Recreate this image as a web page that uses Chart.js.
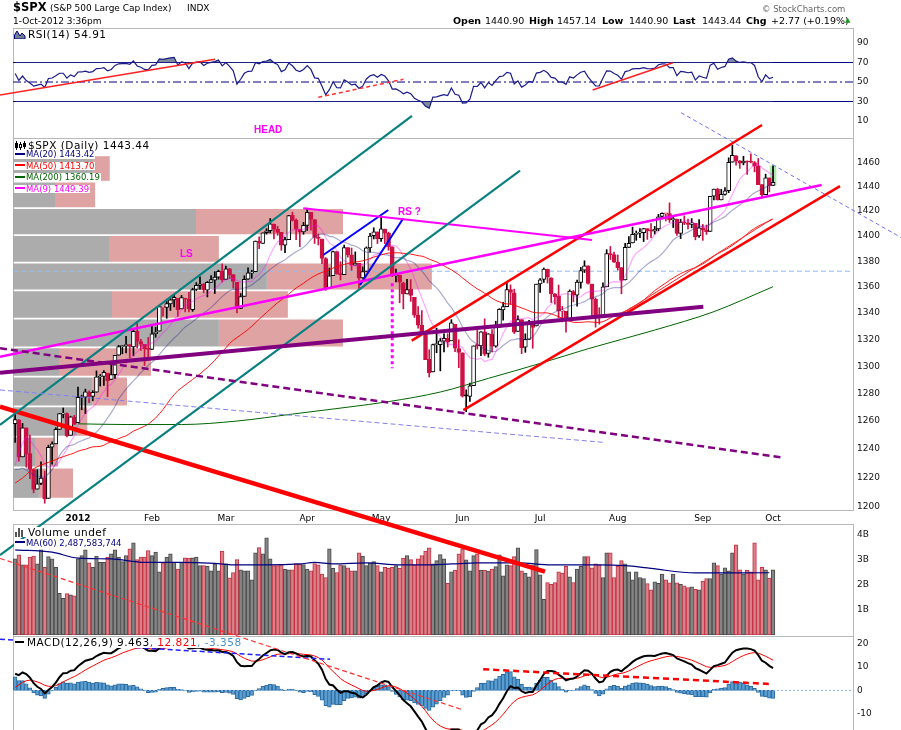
<!DOCTYPE html>
<html><head><meta charset="utf-8">
<script src="https://cdn.jsdelivr.net/npm/chart.js@4.4.0/dist/chart.umd.min.js"></script>
<style>
html,body{margin:0;padding:0;width:901px;height:730px;overflow:hidden;background:#fff;font-family:'DejaVu Sans',sans-serif;color:#000}
canvas{position:absolute;left:0}
.t{position:absolute;white-space:nowrap;line-height:1;font-size:9px;z-index:10}
.box{position:absolute;left:13px;width:841px;border:1px solid #b8b8b8;box-sizing:border-box;z-index:0}
.lg{position:absolute;white-space:nowrap;line-height:1;background:#fff;z-index:10;padding-right:1px}
.big{font-size:10.5px;letter-spacing:0.5px}
.sm{font-size:8.5px}
.dash{display:inline-block;width:10px;height:2px;vertical-align:middle;margin:0 1px 0 1px;position:relative;top:-1px}
.ann{position:absolute;white-space:nowrap;line-height:1;font:bold 10px 'Liberation Sans',Arial,sans-serif;color:#ff00ff;z-index:10}
</style></head><body>

<div class="box" style="top:28px;height:111px"></div>
<div class="box" style="top:138px;height:373px"></div>
<div class="box" style="top:524px;height:113px"></div>
<div class="box" style="top:636px;height:110px"></div>

<canvas id="cMacd" width="901" height="124" style="top:626px;z-index:1"></canvas>
<canvas id="cVol" width="901" height="225" style="top:505px;z-index:2"></canvas>
<canvas id="cRsi" width="901" height="130" style="top:18px;z-index:3"></canvas>
<canvas id="cMain" width="901" height="730" style="top:0px;z-index:4"></canvas>

<div class="t" style="left:13px;top:2px;font-size:11.5px;font-weight:bold">$SPX</div>
<div class="t" style="left:50px;top:4px">(S&amp;P 500 Large Cap Index)</div>
<div class="t" style="left:187px;top:4px">INDX</div>
<div class="t" style="left:13px;top:17px">1-Oct-2012 3:36pm</div>
<div class="t" style="left:762px;top:5px;font-size:8.5px;color:#666">&copy; StockCharts.com</div>
<div class="t" style="left:453px;top:15.6px;font-size:9.5px;font-weight:bold">Open</div>
<div class="t" style="left:485px;top:15.6px;font-size:9.5px">1440.90</div>
<div class="t" style="left:529px;top:15.6px;font-size:9.5px;font-weight:bold">High</div>
<div class="t" style="left:557px;top:15.6px;font-size:9.5px">1457.14</div>
<div class="t" style="left:602px;top:15.6px;font-size:9.5px;font-weight:bold">Low</div>
<div class="t" style="left:629px;top:15.6px;font-size:9.5px">1440.90</div>
<div class="t" style="left:673px;top:15.6px;font-size:9.5px;font-weight:bold">Last</div>
<div class="t" style="left:702px;top:15.6px;font-size:9.5px">1443.44</div>
<div class="t" style="left:746px;top:15.6px;font-size:9.5px;font-weight:bold">Chg</div>
<div class="t" style="left:771px;top:15.6px;font-size:9.5px">+2.77 (+0.19%)</div>
<div class="t" style="left:845px;top:17px;font-size:7px;color:#1a9a1a">&#9650;</div>

<div class="lg big" style="left:14px;top:28.5px"><svg width="12" height="9" style="vertical-align:-1px;margin-right:2px"><polygon points="0.5,9 0.5,5 3,1 6,6 8,3 11,6 11,9" fill="#708090" stroke="#000080" stroke-width="1"/></svg>RSI(14) 54.91</div>

<div class="lg big" style="left:14px;top:139px;padding-top:0.5px"><svg width="12" height="9" style="vertical-align:-1px;margin-right:2px"><path d="M2.5 0v9M6.5 1v8M10.5 0v8" stroke="#000" stroke-width="1"/><rect x="1" y="2" width="3" height="5" fill="#000"/><rect x="5.5" y="3.5" width="2" height="3" fill="#fff" stroke="#000" stroke-width="1"/><rect x="9" y="2" width="3" height="4" fill="#000"/></svg>$SPX (Daily) 1443.44</div>
<div class="lg sm" style="left:14px;top:150px;color:#000080"><span class="dash" style="background:#000080"></span>MA(20) 1443.42</div>
<div class="lg sm" style="left:14px;top:161.5px;color:#ff0000"><span class="dash" style="background:#ff0000"></span>MA(50) 1413.70</div>
<div class="lg sm" style="left:14px;top:173px;color:#006400"><span class="dash" style="background:#006400"></span>MA(200) 1360.19</div>
<div class="lg sm" style="left:14px;top:184.5px;color:#ff00ff"><span class="dash" style="background:#ff00ff"></span>MA(9) 1449.39</div>

<div class="lg big" style="left:14px;top:526.5px"><svg width="12" height="9" style="vertical-align:-1px;margin-right:2px"><rect x="1" y="4" width="2" height="5" fill="#555"/><rect x="4" y="0" width="2" height="9" fill="#555"/><rect x="7" y="2" width="2" height="7" fill="#555"/></svg>Volume undef</div>
<div class="lg sm" style="left:14px;top:538.5px;color:#000080"><span class="dash" style="background:#000080"></span>MA(60) 2,487,583,744</div>

<div class="lg big" style="left:14px;top:637px"><span class="dash" style="background:#000;width:9px;height:2px;margin-right:3px"></span>MACD(12,26,9) 9.463<span style="color:#ff0000">, 12.821</span><span style="color:#4a90c8">, -3.358</span></div>

<div class="ann" style="left:254px;top:123.5px">HEAD</div>
<div class="ann" style="left:180px;top:247.5px">LS</div>
<div class="ann" style="left:398px;top:205.5px">RS ?</div>

<script>
// ---------------- DATA ----------------
// Trading days from 7-Dec-2011 (index 0) to 1-Oct-2012 (index 205)
const monthTickIdx = [17, 37, 57, 79, 99, 121, 142, 163, 186, 205];
const monthTickLabels = ['2012', 'Feb', 'Mar', 'Apr', 'May', 'Jun', 'Jul', 'Aug', 'Sep', 'Oct'];
const priceTicks = [1200,1220,1240,1260,1280,1300,1320,1340,1360,1380,1400,1420,1440,1460];
const rsiTicks = [10, 30, 50, 70, 90];
const volTicks = [1, 2, 3, 4];
const macdTicks = [-10, 0, 10, 20];

// closes before the visible window (26-Sep-2011 .. 6-Dec-2011), used to warm up the indicators
const prefixCloses = [1162.95,1175.38,1151.06,1160.40,1131.42,
1099.23,1123.95,1144.03,1164.97,1155.46,1194.89,1195.54,1207.25,1203.66,1224.58,1200.86,1225.38,1209.88,1215.39,1238.25,1254.19,1229.05,1242.00,1284.59,1285.09,1253.30,
1218.28,1237.90,1261.15,1253.23,1261.12,1275.92,1229.10,1239.69,1263.85,1251.78,1257.81,1236.91,1216.13,1215.65,1192.98,1188.04,1161.79,1158.67,1192.55,1195.19,1246.96,
1244.58,1244.28,1257.08,1258.47];

const opens = [1258.1,1260.9,1234.5,1255.1,1236.8,1225.7,1212.1,1216.1,1219.7,1205.7,1241.3,1243.7,1254.0,1265.0,1265.4,1249.8,1262.8,
1258.9,1277.0,1277.3,1280.9,1277.8,1280.8,1292.0,1292.5,1294.8,1290.2,1293.7,1308.1,1314.5,1315.3,1316.0,1314.4,1326.3,1318.3,1316.2,1313.5,
1312.5,1324.2,1326.2,1344.3,1344.3,1347.0,1350.0,1351.2,1343.1,1351.3,1350.5,1342.6,1358.1,1361.2,1362.1,1357.5,1363.5,1365.2,1367.6,1372.2,
1365.9,1374.1,1369.6,1363.6,1343.4,1352.7,1366.0,1370.8,1371.9,1396.0,1394.2,1402.6,1404.2,1409.6,1405.5,1402.9,1392.8,1397.1,1416.6,1412.5,1405.4,1403.3,
1408.5,1419.0,1413.1,1398.8,1397.5,1382.2,1359.0,1368.8,1387.6,1370.3,1369.6,1390.8,1385.1,1377.0,1378.5,1367.0,1372.1,1390.6,1400.2,1403.3,
1397.9,1405.5,1402.3,1391.5,1368.8,1369.2,1363.2,1354.6,1358.1,1351.9,1338.4,1330.8,1324.8,1305.1,1295.7,1316.1,1316.0,1318.7,1320.8,1318.9,1331.3,1313.1,
1309.9,1278.3,1277.8,1285.6,1316.1,1315.0,1325.7,1309.4,1324.0,1314.9,1329.2,1342.4,1344.8,1358.0,1355.4,1325.9,1334.9,1314.1,1320.0,1331.5,1330.1,
1362.3,1365.8,1373.7,1367.1,1354.7,1353.0,1341.4,1341.3,1334.8,1356.5,1353.7,1363.6,1373.0,1376.5,1362.3,1350.5,1338.4,1338.2,1360.1,1385.9,1385.3,
1379.3,1375.1,1365.5,1391.0,1394.5,1401.2,1402.3,1402.6,1405.9,1404.4,1403.9,1405.6,1415.8,1417.9,1418.1,1413.1,1413.5,1402.0,1411.1,1410.4,1409.3,1410.1,1400.1,
1406.5,1404.9,1403.7,1432.1,1437.9,1429.1,1433.6,1436.6,1460.1,1465.4,1461.2,1459.5,1461.1,1460.3,1459.8,1456.9,1441.6,1433.4,1447.1,
1440.9];

const highs = [1267.1,1260.9,1258.3,1255.1,1249.9,1225.7,1225.6,1231.0,1224.6,1242.8,1245.1,1255.2,1265.4,1269.4,1265.9,1263.5,1264.1,
1284.6,1278.7,1283.1,1281.8,1282.0,1296.5,1293.8,1296.8,1294.8,1303.0,1308.1,1315.5,1315.4,1322.3,1316.0,1328.3,1333.5,1320.1,1316.2,1321.4,
1330.5,1329.2,1345.3,1344.4,1349.2,1351.0,1354.3,1351.2,1353.4,1351.3,1355.9,1359.0,1363.4,1367.8,1362.7,1364.2,1368.9,1371.9,1373.1,1378.0,
1376.2,1374.5,1369.6,1363.6,1354.9,1368.7,1374.8,1373.0,1396.1,1399.4,1402.6,1405.9,1414.0,1409.6,1407.8,1402.9,1399.2,1416.6,1419.2,1413.7,1405.4,1410.9,
1422.4,1419.0,1413.1,1401.6,1397.5,1383.0,1374.7,1388.1,1387.6,1379.7,1392.8,1390.8,1390.5,1387.4,1378.5,1375.6,1391.4,1402.1,1406.6,1403.3,
1415.3,1405.5,1403.1,1391.5,1373.9,1369.2,1363.7,1365.9,1365.7,1351.9,1344.9,1341.8,1326.4,1312.2,1316.4,1328.5,1320.7,1324.1,1324.2,1334.9,1331.3,1319.7,
1309.9,1282.6,1287.6,1315.1,1329.1,1325.8,1335.5,1324.3,1327.3,1333.7,1343.3,1348.2,1363.5,1361.6,1358.3,1337.8,1334.9,1324.2,1334.4,1331.5,1362.2,
1366.4,1374.8,1373.9,1367.1,1354.9,1361.5,1345.0,1341.3,1357.7,1357.3,1365.4,1375.3,1380.4,1376.5,1362.3,1351.5,1344.0,1363.1,1389.2,1391.7,1387.2,
1385.0,1375.1,1394.2,1399.6,1407.1,1404.1,1406.0,1406.0,1405.9,1410.0,1407.7,1417.4,1418.7,1418.1,1426.7,1416.1,1413.5,1413.5,1416.2,1413.6,1414.0,1410.1,1413.1,
1409.3,1408.8,1432.1,1437.9,1438.7,1437.8,1439.2,1463.8,1474.5,1465.6,1461.5,1465.1,1461.2,1467.1,1460.7,1463.2,1441.6,1450.2,1447.1,
1457.1];

const lows = [1244.8,1231.5,1234.5,1227.3,1219.4,1209.5,1212.1,1215.2,1202.4,1205.7,1229.5,1243.7,1254.0,1262.3,1248.6,1249.8,1257.5,
1258.9,1268.1,1265.3,1273.3,1274.6,1280.8,1285.4,1285.8,1277.6,1290.2,1291.0,1308.1,1309.2,1309.9,1306.1,1307.7,1313.6,1311.7,1300.5,1306.7,
1312.5,1321.6,1326.2,1337.5,1335.9,1341.9,1344.6,1337.4,1343.1,1340.8,1340.8,1341.2,1357.2,1358.1,1355.5,1352.3,1363.5,1354.9,1366.0,1363.8,
1365.9,1366.4,1359.1,1340.0,1343.4,1352.7,1365.9,1366.7,1371.9,1390.0,1394.2,1401.5,1402.4,1397.7,1400.6,1388.7,1386.9,1397.1,1412.0,1397.2,1391.6,1401.4,
1404.5,1404.6,1394.1,1392.9,1378.2,1357.4,1359.0,1368.8,1369.9,1365.4,1369.6,1383.3,1372.9,1377.0,1358.8,1366.8,1372.1,1387.3,1397.7,1394.0,
1395.7,1393.9,1388.7,1368.0,1363.9,1347.8,1343.1,1354.6,1348.9,1336.6,1328.5,1324.8,1304.9,1292.0,1295.7,1310.0,1296.5,1310.5,1314.2,1318.9,1310.8,1298.9,
1277.3,1266.7,1274.2,1285.6,1312.7,1307.8,1307.7,1306.6,1310.5,1314.1,1329.2,1334.5,1344.8,1346.5,1324.4,1325.9,1309.3,1310.3,1320.0,1313.3,1330.1,
1355.7,1363.5,1363.0,1348.0,1346.7,1336.3,1333.2,1325.4,1334.8,1348.5,1345.1,1359.0,1371.2,1362.2,1337.6,1329.2,1331.5,1338.2,1360.1,1381.4,1379.2,
1373.1,1354.7,1365.5,1391.0,1394.5,1396.6,1398.8,1395.6,1397.3,1398.8,1401.6,1404.2,1414.7,1412.1,1410.9,1406.8,1400.5,1398.0,1409.1,1405.6,1406.6,1397.0,1399.0,
1396.6,1401.3,1403.7,1429.2,1429.0,1429.1,1433.0,1435.0,1460.1,1457.6,1455.0,1457.9,1450.0,1459.5,1452.1,1441.6,1430.5,1433.4,1435.6,
1440.9];

const closes = [1261.0,1234.4,1255.2,1236.5,1225.7,1211.8,1215.8,1219.7,1205.4,1241.3,1243.7,1254.0,1265.3,1265.4,1249.6,1263.0,1257.6,
1277.1,1277.3,1281.1,1277.8,1280.7,1292.1,1292.5,1295.5,1289.1,1293.7,1308.0,1314.5,1315.4,1316.0,1314.7,1326.1,1318.4,1316.3,1313.0,1312.4,
1324.1,1325.5,1344.9,1344.3,1347.1,1350.0,1351.9,1342.6,1351.8,1350.5,1343.2,1358.0,1361.2,1362.2,1357.7,1363.5,1365.7,1367.6,1372.2,1365.7,
1374.1,1369.6,1364.3,1343.4,1352.6,1365.9,1370.9,1371.1,1396.0,1394.3,1402.6,1404.2,1409.8,1405.5,1402.9,1392.8,1397.1,1416.5,1412.5,1405.5,1403.3,1408.5,
1419.0,1413.4,1399.0,1398.1,1382.2,1358.6,1368.7,1387.6,1370.3,1369.6,1390.8,1385.1,1376.9,1378.5,1366.9,1372.0,1390.7,1400.0,1403.4,1397.9,
1405.8,1402.3,1391.6,1369.1,1369.6,1363.7,1354.6,1358.0,1353.4,1338.4,1330.7,1324.8,1304.9,1295.2,1316.0,1316.6,1318.9,1320.7,1317.8,1332.4,1313.3,1310.3,
1278.0,1278.2,1285.5,1315.1,1315.0,1325.7,1308.9,1324.2,1314.9,1329.1,1342.8,1344.8,1358.0,1355.7,1325.5,1335.0,1313.7,1320.0,1331.9,1329.0,1362.2,
1365.5,1374.0,1367.6,1354.7,1352.5,1341.5,1341.45,1334.8,1356.8,1353.6,1363.7,1372.8,1376.5,1362.7,1350.5,1338.3,1337.9,1360.0,1386.0,1385.3,1379.3,
1375.1,1365.0,1391.0,1394.2,1401.4,1402.2,1402.8,1405.9,1404.1,1403.9,1405.5,1415.5,1418.2,1418.1,1413.2,1413.5,1402.1,1411.1,1410.4,1409.3,1410.5,1399.5,1406.6,
1404.9,1403.4,1432.1,1437.9,1429.1,1433.6,1436.6,1460.0,1465.8,1461.2,1459.3,1461.1,1460.3,1460.2,1456.9,1441.6,1433.3,1447.2,1440.7,
1443.44];

// volume, billions of shares (last bar: undefined)
const volumes = [3.04,3.20,2.80,2.80,3.11,3.15,2.84,3.40,2.70,3.13,3.04,2.70,1.67,1.47,1.66,1.61,1.57,
3.04,3.17,3.40,2.88,2.70,3.15,2.90,2.90,3.11,3.24,3.40,3.11,2.93,3.17,3.44,3.68,3.01,3.11,3.11,3.37,
3.17,3.31,2.53,2.88,3.11,3.24,2.90,2.64,2.90,3.08,3.07,3.08,3.11,2.77,2.77,2.74,2.57,2.84,2.57,3.35,
2.84,2.29,2.50,3.01,2.61,2.57,2.57,2.21,3.28,3.49,3.24,3.88,3.04,2.77,2.77,2.80,2.64,2.61,2.61,2.85,2.82,2.81,
2.64,2.57,2.85,2.80,2.44,2.30,3.44,2.66,2.50,2.80,2.77,2.68,2.57,2.57,3.28,3.15,2.77,2.88,2.93,2.77,
2.53,2.70,2.66,2.70,2.77,2.66,3.07,3.17,3.01,2.80,3.04,3.17,3.35,3.48,2.84,2.97,3.21,3.04,2.07,
2.53,2.60,3.24,3.44,3.00,2.57,3.17,3.24,2.60,2.60,2.56,2.64,2.73,3.20,2.37,2.80,2.77,3.13,3.48,2.57,2.48,
2.33,2.80,3.41,2.41,1.43,2.10,2.03,2.10,2.53,2.48,2.74,2.33,2.10,2.64,2.74,3.13,3.13,2.68,2.84,2.80,2.30,
3.28,3.28,2.30,2.74,2.97,2.84,2.53,2.21,2.53,2.30,2.26,2.06,1.81,2.13,2.07,2.44,2.21,2.09,2.44,2.09,2.03,1.97,1.90,
1.93,1.83,1.81,2.16,2.26,2.26,2.88,2.77,2.44,2.68,2.57,3.28,3.60,2.61,2.44,2.60,2.53,3.68,2.21,2.70,2.61,2.28,2.61,
null];

// 200-day MA
const ma200Idx = [17, 30, 45, 60, 75, 90, 101, 115, 128, 142, 155, 173, 189, 205];
const ma200Val = [1258, 1257.5, 1257.5, 1260, 1265, 1270, 1274, 1281, 1291, 1302, 1313, 1327, 1341, 1360.19];
// 60-day volume MA (billions)
const volMaIdx = [0, 10, 17, 26, 35, 44, 54, 59, 68, 77, 81, 86, 95, 104, 111, 118, 125, 136, 145, 158, 165, 172, 184, 204];
const volMaVal = [3.40, 3.31, 3.07, 3.04, 2.90, 2.90, 2.86, 2.80, 2.80, 2.84, 2.90, 2.84, 2.88, 2.80, 2.80, 2.84, 2.88, 2.88, 2.80, 2.80, 2.77, 2.66, 2.48, 2.4876];
// Volume-by-price (12 zones, low to high), billions: up volume and down volume
const vbpUp   = [6.9, 6.1, 17.1, 21.1, 12.5, 54.9, 26.4, 67.7, 25.6, 48.8, 11.2, 21.3];
const vbpDown = [9.1, 5.9,  2.7,  9.3, 24.3, 33.1, 46.9, 44.0, 29.3, 39.2, 10.7, 4.5];

// Drawn annotation lines: [bar index, value]
const lnTealA   = [[-4.10, 1257.2], [107.34, 1499.1]];
const lnTealB   = [[-4.10, 1167.4], [136.56, 1453.1]];
const lnRedThick= [[-4.10, 1270.3], [143.32, 1156.4]];
const lnPurple  = [[-4.10, 1295.2], [186.14, 1344.8]];
const lnPurpleD = [[-4.10, 1313.3], [207.78, 1234.0]];
const lnBlueThin= [[-4.10, 1282.5], [159.09, 1244.8]];
const lnHoriz   = [[-0.58, 1372.2], [226.63, 1372.2]];
const lnMagRise = [[-4.10, 1307.0], [218.16, 1441.3]];
const lnMagTop  = [[77.94, 1422.3], [156.03, 1396.8]];
const lnMagDot  = [[102.0, 1362.8], [102.0, 1298.4]];
const lnWedge1  = [[83.35, 1385.0], [100.93, 1420.9]];
const lnWedge2  = [[93.28, 1361.5], [105.0, 1414.2]];
const lnRedUp   = [[107.27, 1319.0], [202.02, 1491.4]];
const lnRedLow  = [[121.23, 1267.9], [223.11, 1440.4]];
const lnRedThin = [[163.6, 1338.4], [204.7, 1413.6]];
const lnBlueTR  = [[180.1, 1501.9], [239.6, 1398.9]];
const lnRsi1    = [[-4.10, 36.7], [54.06, 73.3]];
const lnRsiD    = [[82.0, 34.3], [105.0, 52.8]];
const lnRsi2    = [[156.2, 41.8], [177.9, 69.8]];
const lnVolD    = [[-4.10, 3.06], [120.87, -2.98]];
const lnMacdB   = [[-4.10, 21.7], [85.2, 13.2]];
const lnMacdR   = [[126.6, 8.95], [204.2, 2.72]];

// ---------------- derived ----------------
const X_MIN = -0.58, X_MAX = 226.63;
const N = closes.length, P = prefixCloses.length;
const allC = prefixCloses.concat(closes);
function sma(a, n) { return a.map((_, i) => { if (i < n - 1) return null; let s = 0; for (let k = i - n + 1; k <= i; k++) s += a[k]; return s / n; }); }
function ema(a, n) { const k = 2 / (n + 1); const o = []; let e = a[0]; for (let i = 0; i < a.length; i++) { e = i === 0 ? a[0] : a[i] * k + e * (1 - k); o.push(e); } return o; }
function rsiCalc(a, n) { const o = new Array(a.length).fill(null); let g = 0, l = 0;
  for (let i = 1; i <= n; i++) { const d = a[i] - a[i - 1]; if (d > 0) g += d; else l -= d; }
  g /= n; l /= n; o[n] = 100 - 100 / (1 + g / l);
  for (let i = n + 1; i < a.length; i++) { const d = a[i] - a[i - 1]; g = (g * (n - 1) + Math.max(d, 0)) / n; l = (l * (n - 1) + Math.max(-d, 0)) / n; o[i] = 100 - 100 / (1 + g / l); }
  return o; }
const vis = (arr) => arr.slice(P).map((v, i) => ({ x: i, y: v }));
const ma20 = vis(sma(allC, 20)), ma50 = vis(sma(allC, 50)), ma9 = vis(sma(allC, 9));
const rsi = vis(rsiCalc(allC, 14));
const e12 = ema(allC, 12), e26 = ema(allC, 26);
const macdAll = e12.map((v, i) => v - e26[i]);
const sigAll = ema(macdAll, 9);
const macd = vis(macdAll), signal = vis(sigAll);
const hist = macdAll.map((v, i) => v - sigAll[i]).slice(P).map((v, i) => ({ x: i, y: v }));

const RED = '#cc1144', BLK = '#000000';
const upDay = closes.map((c, i) => c >= (i === 0 ? prefixCloses[P - 1] : closes[i - 1]));
const candleCol = upDay.map(u => u ? BLK : RED);
const bodyFill = closes.map((c, i) => c < opens[i] ? candleCol[i] : '#ffffff');

const cMin = Math.min(...closes), cMax = Math.max(...closes);
const zW = (cMax - cMin) / vbpUp.length;

const FONT = 'DejaVu Sans';
Chart.defaults.font.family = FONT;
const pts = (a) => a.map(q => ({ x: q[0], y: q[1] }));
function seg(p, color, width, dash, order) {
  return { type: 'line', data: pts(p), borderColor: color, borderWidth: width, borderDash: dash || [], pointRadius: 0,
    clip: false, order: order || 2, tension: 0, fill: false, borderCapStyle: 'butt' };
}
function xScale() { return { type: 'linear', min: X_MIN, max: X_MAX, offset: false, bounds: 'data', display: false }; }
function yRight(min, max, ticks, cb, type) {
  return { type: type || 'linear', position: 'right', min, max, offset: false, bounds: 'data', beginAtZero: false,
    grid: { display: false, drawTicks: false }, border: { display: false },
    afterBuildTicks: s => { s.ticks = ticks.map(v => ({ value: v })); },
    afterFit: s => { s.width = 48; },
    ticks: { padding: 4, color: '#111', font: { family: FONT, size: 9 }, callback: cb } };
}
const common = (pad) => ({ responsive: false, animation: false, events: [],
  layout: { padding: pad }, plugins: { legend: { display: false }, tooltip: { enabled: false } } });

// volume-by-price zones as filled shapes on the value axis 'xv' and the price axis
const vbpDs = [];
vbpUp.forEach((u, k) => {
  const lo = cMin + zW * k + zW * 0.03, hi = cMin + zW * (k + 1) - zW * 0.03;
  const d = vbpDown[k];
  const base = { type: 'line', xAxisID: 'xv', yAxisID: 'y', order: 100, borderWidth: 0, borderColor: 'rgba(0,0,0,0)',
    pointRadius: 0, tension: 0, fill: 'shape', clip: 0 };
  vbpDs.push(Object.assign({}, base, { backgroundColor: 'rgba(168,168,168,0.95)',
    data: [{ x: 0, y: lo }, { x: u, y: lo }, { x: u, y: hi }, { x: 0, y: hi }] }));
  vbpDs.push(Object.assign({}, base, { backgroundColor: 'rgba(222,158,158,0.95)',
    data: [{ x: u, y: lo }, { x: u + d, y: lo }, { x: u + d, y: hi }, { x: u, y: hi }] }));
});

// ---------------- MAIN PRICE PANEL ----------------
const mainDs = vbpDs.concat([
  { type: 'bar', xAxisID: 'x', yAxisID: 'y', grouped: false, order: 90, barThickness: 6,
    data: [{ x: N - 1, y: [lows[N - 1], highs[N - 1]] }], backgroundColor: 'rgba(140,225,140,0.7)' },
  { type: 'line', xAxisID: 'x', yAxisID: 'y', order: 30, data: ma200Idx.map((x, k) => ({ x, y: ma200Val[k] })),
    borderColor: '#006400', borderWidth: 1, pointRadius: 0, cubicInterpolationMode: 'monotone' },
  { type: 'line', xAxisID: 'x', yAxisID: 'y', order: 30, data: ma50, borderColor: 'rgba(255,0,0,0.9)', borderWidth: 1, pointRadius: 0 },
  { type: 'line', xAxisID: 'x', yAxisID: 'y', order: 30, data: ma20, borderColor: 'rgba(40,40,140,0.4)', borderWidth: 1.2, pointRadius: 0 },
  { type: 'line', xAxisID: 'x', yAxisID: 'y', order: 30, data: ma9, borderColor: 'rgba(255,0,255,0.35)', borderWidth: 1.2, pointRadius: 0 },
  { type: 'bar', xAxisID: 'x', yAxisID: 'y', grouped: false, order: 40, barThickness: 1,
    data: closes.map((c, i) => ({ x: i, y: [lows[i], highs[i]] })), backgroundColor: candleCol },
  { type: 'bar', xAxisID: 'x', yAxisID: 'y', grouped: false, order: 35, barThickness: 4, borderWidth: 1, borderSkipped: false, minBarLength: 1,
    data: closes.map((c, i) => ({ x: i, y: [Math.min(opens[i], c), Math.max(opens[i], c)] })),
    backgroundColor: bodyFill, borderColor: candleCol },
  Object.assign(seg(lnHoriz, '#8ec0ee', 1, [5, 3], 50), { clip: 0 }),
  seg(lnBlueThin, '#8080f0', 1, [5, 3]),
  seg(lnPurpleD, '#800080', 2.5, [7, 4]),
  seg(lnPurple, '#800080', 4),
  seg(lnTealA, '#0a8080', 2.2),
  seg(lnTealB, '#0a8080', 2.2),
  seg(lnRedThick, '#ff0000', 4.5),
  seg(lnMagRise, '#ff00ff', 2.5),
  seg(lnMagTop, '#ff00ff', 2),
  seg(lnMagDot, '#ff00ff', 3, [3, 3]),
  seg(lnWedge1, '#0000ff', 2),
  seg(lnWedge2, '#0000ff', 2),
  seg(lnRedUp, '#ff0000', 2.5),
  seg(lnRedLow, '#ff0000', 2.5),
  seg(lnRedThin, '#ff2020', 1),
  seg(lnBlueTR, '#7070ff', 1, [4, 3])
]);
mainDs.forEach(d => { if (d.type === 'line') { d.xAxisID = d.xAxisID || 'x'; d.yAxisID = d.yAxisID || 'y'; } });

new Chart(document.getElementById('cMain'), {
  type: 'bar',
  data: { datasets: mainDs },
  options: Object.assign(common({ left: 13, right: 0, top: 138, bottom: 200 }), {
    scales: {
      x: { type: 'linear', min: X_MIN, max: X_MAX, offset: false, bounds: 'data', position: 'bottom',
        grid: { display: false, drawTicks: false }, border: { display: false },
        afterBuildTicks: s => { s.ticks = monthTickIdx.map(v => ({ value: v })); },
        afterFit: s => { s.height = 20; },
        ticks: { autoSkip: false, maxRotation: 0, minRotation: 0, padding: 3, color: '#000',
          font: c => ({ family: FONT, size: 9, weight: c.index === 0 ? 'bold' : 'normal' }),
          callback: (v, i) => monthTickLabels[i] } },
      xv: { type: 'linear', axis: 'x', min: 0, max: 224, display: false, offset: false },
      y: yRight(1197.75, 1480.4, priceTicks, v => String(v), 'logarithmic')
    }
  })
});

// ---------------- RSI PANEL ----------------
new Chart(document.getElementById('cRsi'), {
  type: 'line',
  data: { datasets: [
    Object.assign(seg([[X_MIN, 70], [X_MAX, 70]], '#000080', 1, [], 20), { clip: 0 }),
    Object.assign(seg([[X_MIN, 30], [X_MAX, 30]], '#000080', 1, [], 20), { clip: 0 }),
    Object.assign(seg([[X_MIN, 50], [X_MAX, 50]], '#000080', 1, [8, 3, 2, 3], 20), { clip: 0 }),
    { data: rsi, borderColor: '#1a1a8a', borderWidth: 1.2, pointRadius: 0, order: 10,
      fill: { target: { value: 70 }, above: 'rgba(112,128,144,0.9)', below: 'rgba(0,0,0,0)' } },
    { data: rsi, borderWidth: 0, borderColor: 'rgba(0,0,0,0)', pointRadius: 0, order: 11,
      fill: { target: { value: 30 }, above: 'rgba(0,0,0,0)', below: 'rgba(112,128,144,0.9)' } },
    seg(lnRsi1, '#ff2020', 1.5, [], 5),
    seg(lnRsiD, '#ff3030', 1.5, [4, 3], 5),
    seg(lnRsi2, '#ff2020', 1.5, [], 5)
  ] },
  options: Object.assign(common({ left: 13, right: 0, top: 10, bottom: 10 }), {
    scales: { x: xScale(), y: yRight(-7.4, 105.4, rsiTicks, v => String(v)) }
  })
});

// ---------------- VOLUME PANEL ----------------
const volCol = upDay.map(u => u ? '#858585' : '#d98088');
const volBorder = upDay.map(u => u ? '#4a4a4a' : '#c23344');
new Chart(document.getElementById('cVol'), {
  type: 'bar',
  data: { datasets: [
    { type: 'bar', grouped: false, order: 20, barThickness: 3.7, borderWidth: 1, borderSkipped: false,
      data: volumes.map((v, i) => ({ x: i, y: v })), backgroundColor: volCol, borderColor: volBorder },
    { type: 'line', order: 10, data: volMaIdx.map((x, k) => ({ x, y: volMaVal[k] })), borderColor: '#000080',
      borderWidth: 1.2, pointRadius: 0, cubicInterpolationMode: 'monotone' },
    seg(lnVolD, '#ff3030', 1.2, [5, 3], 5)
  ] },
  options: Object.assign(common({ left: 13, right: 0, top: 19.3, bottom: 95 }), {
    scales: { x: xScale(), y: yRight(0, 4.425, volTicks, v => v + 'B') }
  })
});

// ---------------- MACD PANEL ----------------
new Chart(document.getElementById('cMacd'), {
  type: 'bar',
  data: { datasets: [
    { type: 'bar', grouped: false, order: 30, barThickness: 3.7, borderWidth: 1, borderSkipped: false,
      data: hist, backgroundColor: '#5a9fd2', borderColor: '#2c6aa0' },
    { type: 'line', order: 25, data: [{ x: X_MIN, y: 0 }, { x: X_MAX, y: 0 }], borderColor: '#8cb8e0', borderWidth: 1, borderDash: [2, 2], pointRadius: 0 },
    { type: 'line', order: 20, data: signal, borderColor: '#ff0000', borderWidth: 1, pointRadius: 0 },
    { type: 'line', order: 15, data: macd, borderColor: '#000000', borderWidth: 2, pointRadius: 0 },
    seg(lnMacdB, '#2020ff', 1.5, [5, 3], 5),
    seg(lnMacdR, '#ff0000', 2.5, [6, 4], 5)
  ] },
  options: Object.assign(common({ left: 13, right: 0, top: 10, bottom: 10 }), {
    scales: { x: xScale(), y: yRight(-21.04, 23.08, macdTicks, v => String(v)) }
  })
});
</script>
</body></html>
